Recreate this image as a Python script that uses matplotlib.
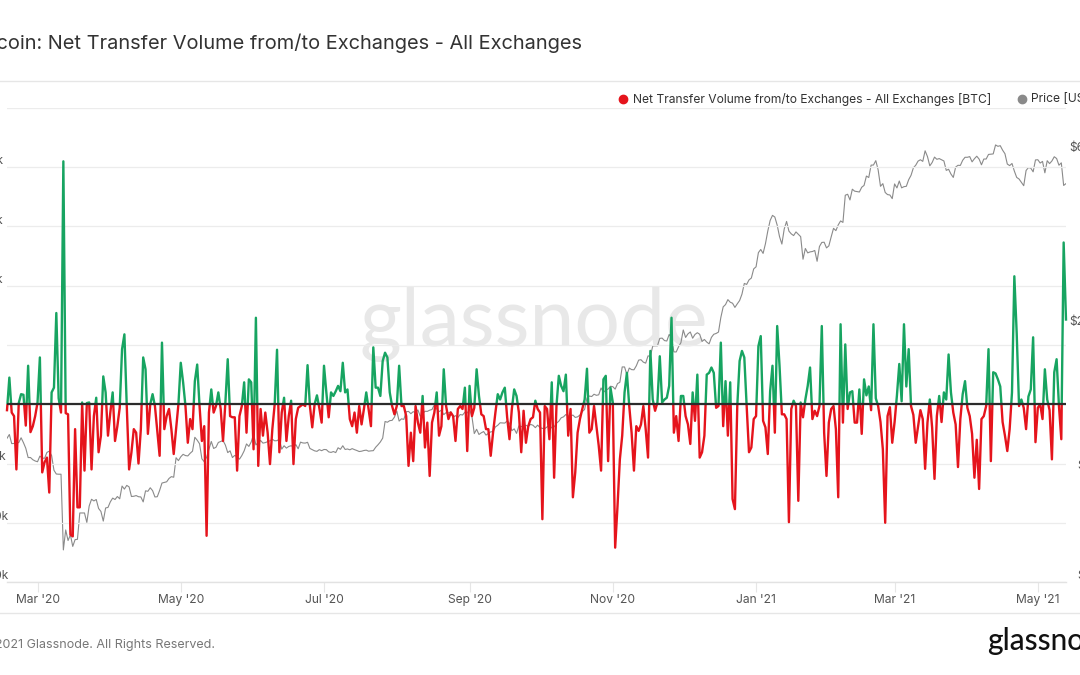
import matplotlib
matplotlib.use("Agg")
from matplotlib import pyplot as plt
from matplotlib.lines import Line2D
from matplotlib.patches import Rectangle
from matplotlib.transforms import blended_transform_factory, ScaledTranslation
import matplotlib.dates as mdates
import matplotlib.ticker as mticker
import numpy as np
import pandas as pd

plt.rcParams['font.family'] = ['Inter', 'DejaVu Sans']

start_date = '2020-02-17'

# net transfer volume from/to exchanges, thousands of BTC, one value per day
net_flow_k = [
    -1.0, 4.5, -1.4, -2.0, -11.0, 0.2, 1.7, 1.6, -3.6, 6.5,
    -4.7, -3.7, -2.0, 0.3, 7.9, -11.5, -9.8, -9.0, -14.9, 2.0,
    2.8, 15.4, 1.0, -1.4, 41.0, -1.5, -1.7, -22.0, -22.3, -4.2,
    -17.4, -17.4, 0.3, -11.2, 0.2, 0.3, -11.0, -2.0, 1.1, -8.1,
    -5.3, 4.7, 2.0, -5.3, -1.4, 2.0, -6.2, -3.7, -0.6, 9.3,
    11.8, -0.3, -11.0, -8.1, -4.2, -4.8, -10.0, -4.2, 7.9, 5.9,
    -5.0, 0.0, 1.7, -0.3, -4.5, -8.7, 10.4, -4.2, -2.0, -0.8,
    -4.2, -8.4, -4.2, 0.0, 7.0, 3.7, -0.3, -6.5, -2.5, -4.2,
    3.9, 6.7, -0.3, -6.2, -3.7, -22.2, -1.4, 2.5, -1.4, -0.3,
    2.0, -0.8, -6.2, 0.3, 7.6, -2.0, -2.2, -2.2, -11.2, -2.0,
    -0.3, 3.7, -4.8, 4.2, 3.7, -7.6, 14.6, -10.4, -0.8, -5.3,
    -1.4, -4.8, -10.1, -4.2, 0.0, 9.2, -8.1, -1.4, 1.1, -6.2,
    -2.0, 0.6, -10.1, -2.5, -0.6, -0.3, 0.0, -0.3, 6.6, -0.3,
    -3.9, 0.0, 1.5, -0.6, -3.1, 6.5, 2.0, -2.2, 2.0, 1.4,
    2.2, 3.1, 2.2, 7.0, 2.0, 2.5, -2.5, -3.7, -1.4, -4.8,
    -0.3, -3.4, -0.8, 2.0, -0.8, -3.7, 9.6, 2.8, 2.8, 1.4,
    7.3, 8.7, 7.9, 2.0, -0.3, -1.7, -0.3, 6.5, -0.3, -0.3,
    -2.0, -10.4, -4.8, -9.6, -0.3, -3.1, -4.8, 1.4, -7.3, -3.1,
    -12.1, -3.1, -1.4, 2.0, -5.3, -3.7, 5.9, -0.3, -2.5, -1.4,
    -2.0, -6.2, -0.8, -0.3, -0.8, 2.8, -7.9, 3.1, -2.0, -0.6,
    5.9, 1.4, -1.7, -2.0, -4.2, -4.2, -8.7, -4.8, -1.4, 1.7,
    0.8, 2.0, 2.8, -2.2, -5.9, -0.8, 2.5, 1.4, -1.4, -8.1,
    -1.1, -6.5, -3.7, -2.5, -2.2, 0.6, -0.8, -1.4, -19.4, -0.3,
    -0.8, -5.9, 3.7, -12.4, -0.3, 4.8, 3.1, 2.2, 5.0, -5.3,
    -0.8, -15.7, -11.5, -4.8, -2.5, -0.8, 0.8, 6.0, -4.8, -4.2,
    -0.3, -3.7, -7.0, -11.2, 4.2, 4.8, -9.6, 2.8, 0.3, -24.2,
    -17.2, -9.3, -5.3, 2.0, 5.3, -0.3, -4.8, -11.2, -3.7, -4.5,
    -3.4, -0.3, -4.2, -9.0, 9.0, 0.8, -1.1, 0.3, 8.1, 0.3,
    0.8, 1.1, 3.1, 14.6, -4.8, -2.0, -6.2, 1.4, 1.4, -2.0,
    -3.4, -6.7, 2.0, -2.8, 5.0, -9.0, -8.1, -5.3, 5.0, 5.3,
    6.2, 5.3, -0.6, -0.3, 10.4, -3.7, 3.9, -5.3, 3.7, -16.0,
    -17.7, -0.3, 7.3, 9.0, 7.9, -0.3, -8.1, -7.3, -2.5, -2.0,
    9.8, 11.5, -2.8, -3.9, -8.4, 2.2, 6.5, -4.8, 13.2, 6.5,
    -1.7, -1.7, -2.5, -19.9, -0.8, 0.6, -0.3, -16.3, 0.3, -2.2,
    0.8, 3.1, 6.2, -2.5, -1.1, -2.0, -0.3, 13.2, -4.8, -12.1,
    -3.1, -0.8, -0.3, -4.2, -15.7, 13.5, -3.1, 10.1, -0.8, 2.0,
    2.2, -3.1, -3.1, 2.5, -5.0, 4.2, 1.5, 3.0, -1.0, 13.5,
    1.0, -0.3, -3.0, -7.6, -20.0, -2.0, -0.5, -6.5, -3.0, 1.5,
    6.8, 0.5, 13.5, 3.0, 9.3, -0.3, -1.8, -6.5, -3.7, -1.0,
    -2.5, -10.9, -3.1, 0.8, -4.0, -12.6, -2.0, 1.4, -3.0, 2.0,
    0.8, 8.4, 2.0, -1.4, -3.4, -10.6, -2.5, 1.7, 3.9, -0.6,
    -2.0, -5.0, -12.4, -6.0, -14.3, -2.5, -2.0, -0.3, 9.3, -9.6,
    5.4, 5.2, 4.2, 3.0, -3.0, -5.3, -7.9, -4.2, 2.0, 21.6,
    12.0, -0.3, 0.8, -0.6, -4.2, 1.3, 2.5, 11.3, -6.4, -0.6,
    0.0, -2.5, 5.9, 0.8, -1.0, -9.3, 5.4, 7.6, -0.3, -5.9,
    27.3, 14.3,
]

# BTC price, USD, daily, month by month
price_2020_feb = [9930, 10170, 9600, 9610, 9690, 9660, 9960, 9660, 9320, 8790, 8790, 8670, 8600]
price_2020_mar = [8560, 8870, 8760, 8750, 9080, 9150, 8900, 8110, 7920, 7910, 7910, 4900, 5560, 5200,
                  5390, 5010, 5230, 5240, 6190, 6190, 6190, 5830, 6470, 6750, 6680, 6740, 6370, 6250,
                  5880, 6390, 6410]
price_2020_apr = [6640, 6800, 6740, 6870, 6770, 7340, 7200, 7370, 7300, 6870, 6880, 6910, 6860, 6850,
                  6640, 7120, 7100, 7260, 7130, 6850, 6860, 7140, 7480, 7510, 7540, 7700, 7790, 7760,
                  8780, 8620]
price_2020_may = [8830, 8970, 8900, 8880, 9030, 9150, 9990, 9810, 9590, 8720, 8560, 8800, 9270, 9730,
                  9310, 9380, 9670, 9730, 9790, 9510, 9070, 9170, 8790, 8910, 8840, 8700, 8900, 9170,
                  9580, 9430, 9700]
price_2020_jun = [10200, 9520, 9660, 9790, 9630, 9660, 9720, 9770, 9870, 9770, 9780, 9890, 9270, 9470,
                  9330, 9430, 9470, 9410, 9540, 9290, 9690, 9640, 9630, 9680, 9310, 9240, 9170, 9140,
                  9240, 9180]
price_2020_jul = [9250, 9240, 9110, 9080, 9130, 9070, 9350, 9260, 9470, 9250, 9280, 9230, 9300, 9240,
                  9190, 9130, 9150, 9190, 9210, 9150, 9170, 9180, 9380, 9530, 9700, 9940, 11040, 10990,
                  11100, 11120, 11350]
price_2020_aug = [11800, 11070, 11230, 11190, 11740, 11770, 11600, 11750, 11680, 11880, 11410, 11590,
                  11780, 11770, 11860, 11910, 12280, 11950, 11750, 11860, 11530, 11680, 11650, 11750,
                  11330, 11460, 11320, 11540, 11500, 11710, 11650]
price_2020_sep = [11920, 11400, 10230, 10510, 10170, 10280, 10360, 10130, 10240, 10340, 10360, 10670,
                  10780, 10950, 10940, 10930, 11080, 10920, 10420, 10540, 10240, 10740, 10690, 10730,
                  10780, 10700, 10840, 10780, 10620, 10790]
price_2020_oct = [10620, 10570, 10550, 10670, 10790, 10600, 10670, 10920, 11060, 11300, 11370, 11540,
                  11430, 11430, 11500, 11330, 11370, 11500, 11750, 11920, 12820, 12970, 12930, 13120,
                  13030, 13070, 13650, 13280, 13460, 13560, 13800]
price_2020_nov = [13760, 13550, 14030, 14150, 15590, 15590, 14840, 15480, 15330, 15310, 15700, 16280,
                  16320, 16070, 15970, 16720, 16680, 17800, 17820, 17820, 18680, 18710, 18420, 18370,
                  19150, 18730, 17150, 17140, 17720, 18180]
price_2020_dec = [19700, 18790, 19220, 19450, 18700, 19150, 19360, 19170, 18320, 18550, 18250, 18040,
                  18800, 19170, 19270, 19440, 21310, 22800, 23130, 23870, 23480, 23330, 22720, 23240,
                  23730, 24710, 26440, 26280, 27040, 27360, 28990]
price_2021_jan = [29370, 32130, 32780, 31970, 33990, 36830, 39370, 40670, 40240, 38240, 35550, 33920,
                  37320, 39140, 36810, 36180, 35790, 36630, 36070, 35550, 30820, 32990, 32080, 32280,
                  32360, 32570, 30420, 33400, 34270, 34320, 33110]
price_2021_feb = [33530, 35510, 37470, 36930, 38290, 39260, 38900, 46200, 46480, 44840, 47990, 47400,
                  47290, 47150, 48590, 49160, 52150, 51680, 55890, 55920, 57500, 54210, 48880, 49710,
                  47010, 46380, 46270, 45210]
price_2021_mar = [49630, 48380, 50540, 48410, 48770, 48880, 50970, 52390, 54930, 55850, 57330, 57820,
                  57230, 61190, 59000, 55640, 56830, 58800, 57980, 58250, 57830, 57380, 54060, 54440,
                  52830, 51700, 55190, 55830, 55780, 57630, 58730]
price_2021_apr = [58730, 58980, 57060, 58200, 59130, 58060, 56000, 58090, 58090, 59800, 59890, 59990,
                  63500, 62950, 63200, 61440, 60070, 56270, 55720, 56470, 53830, 51710, 51190, 50110,
                  49070, 54020, 55040, 54840, 53560, 57750]
price_2021_may = [57830, 56630, 57210, 53240, 57470, 56430, 57380, 58930, 58280, 55860, 56700, 49150, 49720]

price = (price_2020_feb + price_2020_mar + price_2020_apr + price_2020_may + price_2020_jun
         + price_2020_jul + price_2020_aug + price_2020_sep + price_2020_oct + price_2020_nov
         + price_2020_dec + price_2021_jan + price_2021_feb + price_2021_mar + price_2021_apr
         + price_2021_may)

flow_ticks = [-30, -20, -10, 0, 10, 20, 30, 40, 50]
flow_labels = ['-30k', '-20k', '-10k', '0', '10k', '20k', '30k', '40k', '']
price_ticks = [4000, 8000, 20000, 60000]
price_labels = ['$4k', '$8k', '$20k', '$60k']
month_ticks = ['2020-03-01', '2020-05-01', '2020-07-01', '2020-09-01',
               '2020-11-01', '2021-01-01', '2021-03-01', '2021-05-01']
month_labels = ["Mar '20", "May '20", "Jul '20", "Sep '20", "Nov '20", "Jan '21", "Mar '21", "May '21"]

GREEN = '#17a461'
RED = '#e5141c'
GREY = '#8a8a8a'

W, H = 1080, 675
fig = plt.figure(figsize=(W / 100, H / 100), dpi=100)
fig.patch.set_facecolor('white')


def fx(px):
    return px / W


def fy(px):
    return 1 - px / H


ax_left, ax_right, ax_top, ax_bottom = 7, 1066, 108, 582
ax2 = fig.add_axes([fx(ax_left), fy(ax_bottom), fx(ax_right - ax_left), (ax_bottom - ax_top) / H])
ax = ax2.twinx()
ax.set_zorder(ax2.get_zorder() + 1)
ax.patch.set_visible(False)

flow_dates = mdates.date2num(pd.date_range(start_date, periods=len(net_flow_k)))
price_dates = mdates.date2num(pd.date_range(start_date, periods=len(price)))
x0, x1 = flow_dates[0], flow_dates[-1]

# price on the log axis underneath
ax2.plot(price_dates, price, color=GREY, lw=0.8, zorder=2)
ax2.set_yscale('log')
ax2.set_ylim(4000, 4000 * 10 ** ((ax_bottom - ax_top) / 364))
ax2.yaxis.set_major_locator(mticker.NullLocator())
ax2.yaxis.set_minor_locator(mticker.NullLocator())
ax2.text(0.497, 0.545, 'glassnode', transform=ax2.transAxes, ha='center', va='center',
         fontsize=58, color='#e8e8e8', family=['Lato', 'DejaVu Sans'], zorder=1)

# net flow: green above zero, red below
flow = np.array(net_flow_k)
g_line, = ax.plot(flow_dates, flow, color=GREEN, lw=1.7, zorder=3, solid_joinstyle='round')
r_line, = ax.plot(flow_dates, flow, color=RED, lw=1.7, zorder=3, solid_joinstyle='round')
g_line.set_clip_path(Rectangle((x0 - 5, 0), x1 - x0 + 10, 100, transform=ax.transData))
r_line.set_clip_path(Rectangle((x0 - 5, -100), x1 - x0 + 10, 100, transform=ax.transData))
ax.axhline(0, color='#2b2b2b', lw=1.6, zorder=4)

ax.set_ylim(-30, 50)
ax2.set_xlim(x0, x1)
ax.yaxis.tick_left()
ax.set_yticks(flow_ticks)
ax.tick_params(axis='y', length=0, labelleft=False, labelright=False)
ax.grid(axis='y', color='#ececec', lw=0.9, zorder=0)
for s in ['left', 'right', 'top']:
    ax.spines[s].set_visible(False)
    ax2.spines[s].set_visible(False)
ax2.spines['bottom'].set_visible(False)
ax.spines['bottom'].set_color('#e2e2e2')
ax.spines['bottom'].set_linewidth(1.0)

# month ticks live on the base axes (the twin hides its x labels)
ax2.set_xticks(mdates.date2num(pd.to_datetime(month_ticks)))
ax2.set_xticklabels(month_labels)
ax2.tick_params(axis='x', length=7, width=0.8, color='#e6e6e6', labelsize=8.7,
                labelcolor='#555555', pad=1.5)

# axis value labels (cropped at the figure edges like the screenshot)
up = ScaledTranslation(0, 6 / 100, fig.dpi_scale_trans)
lt = blended_transform_factory(fig.transFigure, ax.transData) + up
for v, lab in zip(flow_ticks, flow_labels):
    ax.text(fx(-18.5), v, lab, transform=lt, ha='left', va='center', fontsize=8.7,
            color='#555555', clip_on=False)
rt = blended_transform_factory(fig.transFigure, ax2.transData) + up
for v, lab in zip(price_ticks, price_labels):
    ax2.text(fx(1099), v, lab, transform=rt, ha='right', va='center', fontsize=8.7,
             color='#555555', clip_on=False)

# header, legend, footer
fig.text(fx(582), fy(43), 'Bitcoin: Net Transfer Volume from/to Exchanges - All Exchanges',
         ha='right', va='center', fontsize=14.4, color='#333333')
for yy in [81, 613]:
    fig.add_artist(Line2D([0, 1], [fy(yy), fy(yy)], transform=fig.transFigure,
                          color='#e6e6e6', lw=1.0))
fig.add_artist(Line2D([fx(623)], [fy(99)], transform=fig.transFigure, marker='o',
                      ms=6, color=RED, lw=0))
fig.text(fx(633), fy(99), 'Net Transfer Volume from/to Exchanges - All Exchanges [BTC]',
         ha='left', va='center', fontsize=8.7, color='#333333')
fig.add_artist(Line2D([fx(1022)], [fy(99)], transform=fig.transFigure, marker='o',
                      ms=6, color=GREY, lw=0))
fig.text(fx(1031), fy(99), 'Price [USD]', ha='left', va='center', fontsize=8.7, color='#333333')

fig.text(fx(215), fy(645), '\u00a9 2021 Glassnode. All Rights Reserved.', ha='right',
         va='center', fontsize=9, color='#777777')
fig.text(fx(987), fy(641), 'glassnode', ha='left', va='center', fontsize=21.5,
         color='#111111', family=['Lato', 'DejaVu Sans'], fontweight='medium')

fig.savefig('out.png', dpi=100)
